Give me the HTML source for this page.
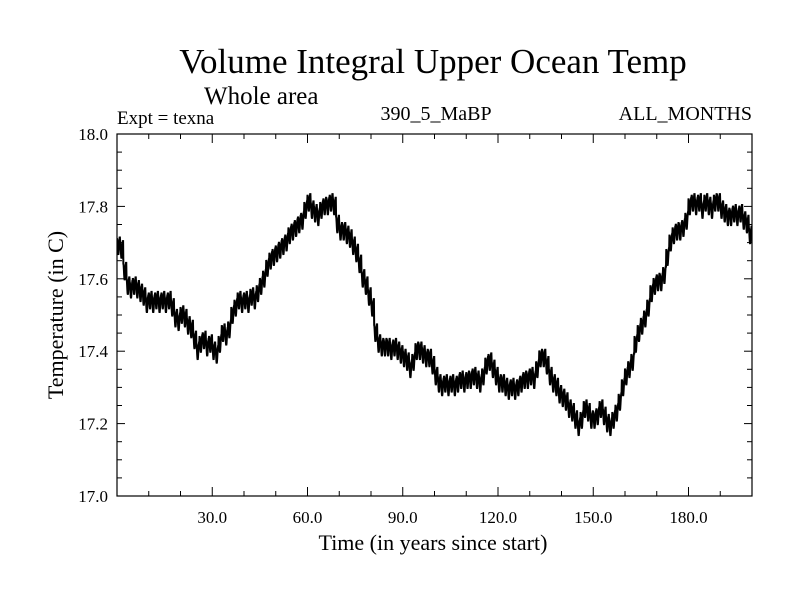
<!DOCTYPE html>
<html><head><meta charset="utf-8"><style>
html,body{margin:0;padding:0;background:#fff;}
svg{display:block;font-family:"Liberation Serif",serif;}
</style></head><body>
<svg id="chart" width="800" height="600" viewBox="0 0 800 600">
<rect width="800" height="600" fill="#fff"/>
<text x="433" y="73" font-size="35" text-anchor="middle">Volume Integral Upper Ocean Temp</text>
<text x="204" y="104" font-size="25">Whole area</text>
<text x="117" y="124" font-size="19">Expt = texna</text>
<text x="436" y="120" font-size="20" text-anchor="middle">390_5_MaBP</text>
<text x="752" y="120" font-size="20" text-anchor="end">ALL_MONTHS</text>
<text transform="translate(63,315) rotate(-90)" font-size="22" text-anchor="middle">Temperature (in C)</text>
<text x="433" y="550" font-size="22" text-anchor="middle">Time (in years since start)</text>
<g id="axes"></g>
<g id="series"></g>
<rect x="117" y="134" width="635" height="362" fill="none" stroke="#000" stroke-width="1.2"/>
</svg>
<script>
const years0 = 0, yearsMax = 200;
const yTickLabels = ["17.0","17.2","17.4","17.6","17.8","18.0"];
const xTickLabels = ["30.0","60.0","90.0","120.0","150.0","180.0"];
const annualMean = [17.69,17.68,17.62,17.58,17.57,17.58,17.57,17.56,17.55,17.53,
17.54,17.53,17.54,17.53,17.54,17.53,17.54,17.52,17.49,17.48,
17.50,17.49,17.47,17.46,17.43,17.40,17.42,17.43,17.41,17.42,
17.40,17.39,17.42,17.45,17.44,17.46,17.50,17.52,17.54,17.53,
17.54,17.53,17.55,17.54,17.56,17.58,17.60,17.63,17.65,17.66,
17.67,17.68,17.69,17.70,17.72,17.73,17.74,17.75,17.76,17.79,
17.81,17.79,17.78,17.77,17.79,17.80,17.80,17.81,17.80,17.75,
17.73,17.73,17.72,17.71,17.69,17.67,17.64,17.60,17.58,17.55,
17.52,17.45,17.42,17.41,17.41,17.41,17.40,17.41,17.40,17.39,
17.38,17.37,17.35,17.37,17.40,17.40,17.39,17.38,17.38,17.36,
17.33,17.31,17.30,17.31,17.30,17.31,17.30,17.31,17.32,17.31,
17.32,17.32,17.33,17.32,17.31,17.33,17.36,17.37,17.35,17.33,
17.31,17.31,17.30,17.29,17.30,17.29,17.30,17.31,17.32,17.32,
17.33,17.32,17.35,17.38,17.38,17.36,17.33,17.31,17.30,17.28,
17.27,17.26,17.24,17.23,17.21,17.19,17.21,17.24,17.23,17.21,
17.21,17.22,17.24,17.22,17.20,17.19,17.21,17.23,17.26,17.30,
17.33,17.35,17.37,17.42,17.45,17.47,17.49,17.52,17.56,17.58,
17.59,17.59,17.61,17.66,17.70,17.72,17.73,17.73,17.74,17.76,
17.80,17.81,17.80,17.81,17.79,17.81,17.80,17.79,17.81,17.81,
17.79,17.78,17.77,17.77,17.78,17.77,17.78,17.76,17.75,17.72,17.70];
const seasonalAnomaly = [0.022,0.018,0.006,-0.009,-0.020,-0.024,-0.018,-0.006,0.007,0.018,0.024,0.024];

const L=117,R=752,T=134,B=496;
function xs(v){return L+(v-years0)/(yearsMax-years0)*(R-L);}
function ys(v){return B-(v-17.0)/(1.0)*(B-T);}
const NS="http://www.w3.org/2000/svg";
const axes=document.getElementById('axes');
function line(x1,y1,x2,y2,name){
  const l=document.createElementNS(NS,'line');
  l.setAttribute('x1',x1);l.setAttribute('y1',y1);l.setAttribute('x2',x2);l.setAttribute('y2',y2);
  l.setAttribute('stroke','#000');l.setAttribute('stroke-width','1');
  
  
  axes.appendChild(l);
}
function text(x,y,s,anchor,name){
  const t=document.createElementNS(NS,'text');
  t.setAttribute('x',x);t.setAttribute('y',y);t.setAttribute('font-size','17');
  t.setAttribute('text-anchor',anchor);t.textContent=s;
  
  
  axes.appendChild(t);
}
for(let yr=10;yr<yearsMax;yr+=10){
  const x=xs(yr), len=(yr%30===0)?9:5;
  line(x,B,x,B-len,'x-tick');
  line(x,T,x,T+len,'x-tick-top');
}
xTickLabels.forEach(s=>{text(xs(parseFloat(s)),523,s,'middle','x-tick-label');});
for(let i=1;i<20;i++){
  const v=17+i*0.05, y=ys(v), len=(i%4===0)?8:5;
  line(L,y,L+len,y,'y-tick');
  line(R,y,R-len,y,'y-tick-right');
}
yTickLabels.forEach(s=>{text(108,ys(parseFloat(s))+6,s,'end','y-tick-label');});
let d='';
annualMean.forEach((m,i)=>{
  seasonalAnomaly.forEach((a,k)=>{
    const x=xs(i+k/12), y=ys(m+a);
    d+=(d?'L':'M')+x.toFixed(2)+','+y.toFixed(2);
  });
});
const p=document.createElementNS(NS,'path');
p.setAttribute('d',d);p.setAttribute('fill','none');p.setAttribute('stroke','#000');p.setAttribute('stroke-width','2');


const clip=document.createElementNS(NS,'clipPath');clip.setAttribute('id','pc');
const cr=document.createElementNS(NS,'rect');cr.setAttribute('x',L);cr.setAttribute('y',T);cr.setAttribute('width',R-L);cr.setAttribute('height',B-T);
clip.appendChild(cr);document.getElementById('chart').appendChild(clip);
p.setAttribute('clip-path','url(#pc)');
document.getElementById('series').appendChild(p);
</script>
</body></html>
